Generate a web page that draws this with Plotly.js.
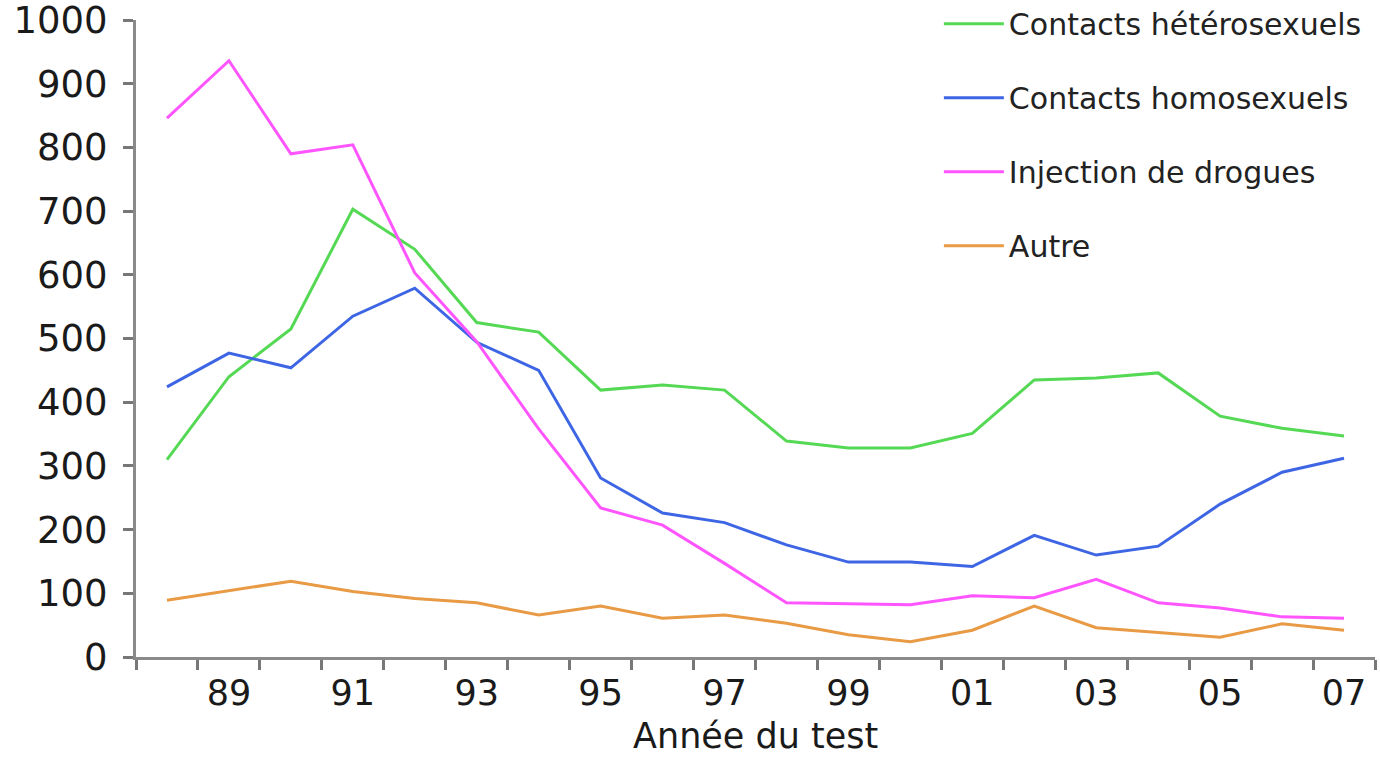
<!DOCTYPE html>
<html><head><meta charset="utf-8">
<script src="https://cdn.plot.ly/plotly-3.0.1.min.js"></script>
<style>html,body{margin:0;padding:0;background:#fff}#chart{width:1380px;height:758px}</style>
</head><body><div id="chart"></div>
<script>
const years = ['88','89','90','91','92','93','94','95','96','97','98','99','00','01','02','03','04','05','06','07'];
const tickLabels = ['89','91','93','95','97','99','01','03','05','07'];
const heterosexuels = [310,440,515,703,640,525,510,419,427,419,339,328,328,351,435,438,446,378,359,347];
const homosexuels   = [424,477,454,535,579,494,450,281,226,211,176,149,149,142,191,160,174,240,290,312];
const drogues       = [846,936,790,804,603,495,358,234,207,147,85,83,82,96,93,122,85,77,63,61];
const autre         = [89,104,119,103,92,85,66,80,61,66,53,35,24,42,80,46,39,31,52,42];
const seriesNames = ['Contacts hétérosexuels','Contacts homosexuels','Injection de drogues','Autre'];
const colors = ['#55d955','#3e66e4','#ff55ff','#e89a45'];
const xTitle = 'Année du test';

const idx = years.map((_, i) => i);
const tickPos = tickLabels.map(t => years.indexOf(t));
const data = [heterosexuels, homosexuels, drogues, autre].map((vals, k) => ({
  type: 'scatter', mode: 'lines', x: idx, y: vals, name: seriesNames[k],
  legendgroup: 'g' + k, line: {color: colors[k], width: 3}, hoverinfo: 'skip'
}));

const font = 'DejaVu Sans, sans-serif';
const layout = {
  width: 1380, height: 758,
  margin: {l: 136, r: 5, t: 20, b: 101, autoexpand: false},
  paper_bgcolor: '#fff', plot_bgcolor: '#fff',
  font: {family: font, color: '#222'},
  showlegend: true,
  legend: {x: 0.648, y: 1.035, xanchor: 'left', yanchor: 'top', traceorder: 'grouped',
           tracegroupgap: 32, font: {family: font, size: 30, color: '#222'},
           bgcolor: 'rgba(0,0,0,0)', itemwidth: 60},
  xaxis: {
    automargin: false,
    range: [-0.5, years.length - 0.5], showgrid: false, zeroline: false,
    showline: true, linecolor: '#8a8a8a', linewidth: 3,
    tickmode: 'array', tickvals: tickPos, ticktext: tickLabels, ticks: '',
    ticklabelstandoff: 3,
    tickfont: {family: font, size: 35, color: '#1a1a1a'},
    minor: {tick0: -0.5, dtick: 1, ticks: 'outside', ticklen: 10, tickwidth: 3, tickcolor: '#777'}
  },
  yaxis: {
    automargin: false,
    range: [0, 1000], dtick: 100, showgrid: false, zeroline: false,
    showline: true, linecolor: '#8a8a8a', linewidth: 3,
    ticks: 'outside', ticklen: 10, tickwidth: 3, tickcolor: '#777',
    ticklabelstandoff: 8, ticklabeloverflow: 'allow',
    tickfont: {family: font, size: 37, color: '#1a1a1a'}
  },
  annotations: [{
    text: xTitle, xref: 'paper', yref: 'paper', x: 0.5, y: -0.124,
    xanchor: 'center', yanchor: 'middle', showarrow: false,
    font: {family: font, size: 35, color: '#1a1a1a'}
  }]
};
Plotly.newPlot('chart', data, layout, {displayModeBar: false, staticPlot: true});
</script></body></html>
